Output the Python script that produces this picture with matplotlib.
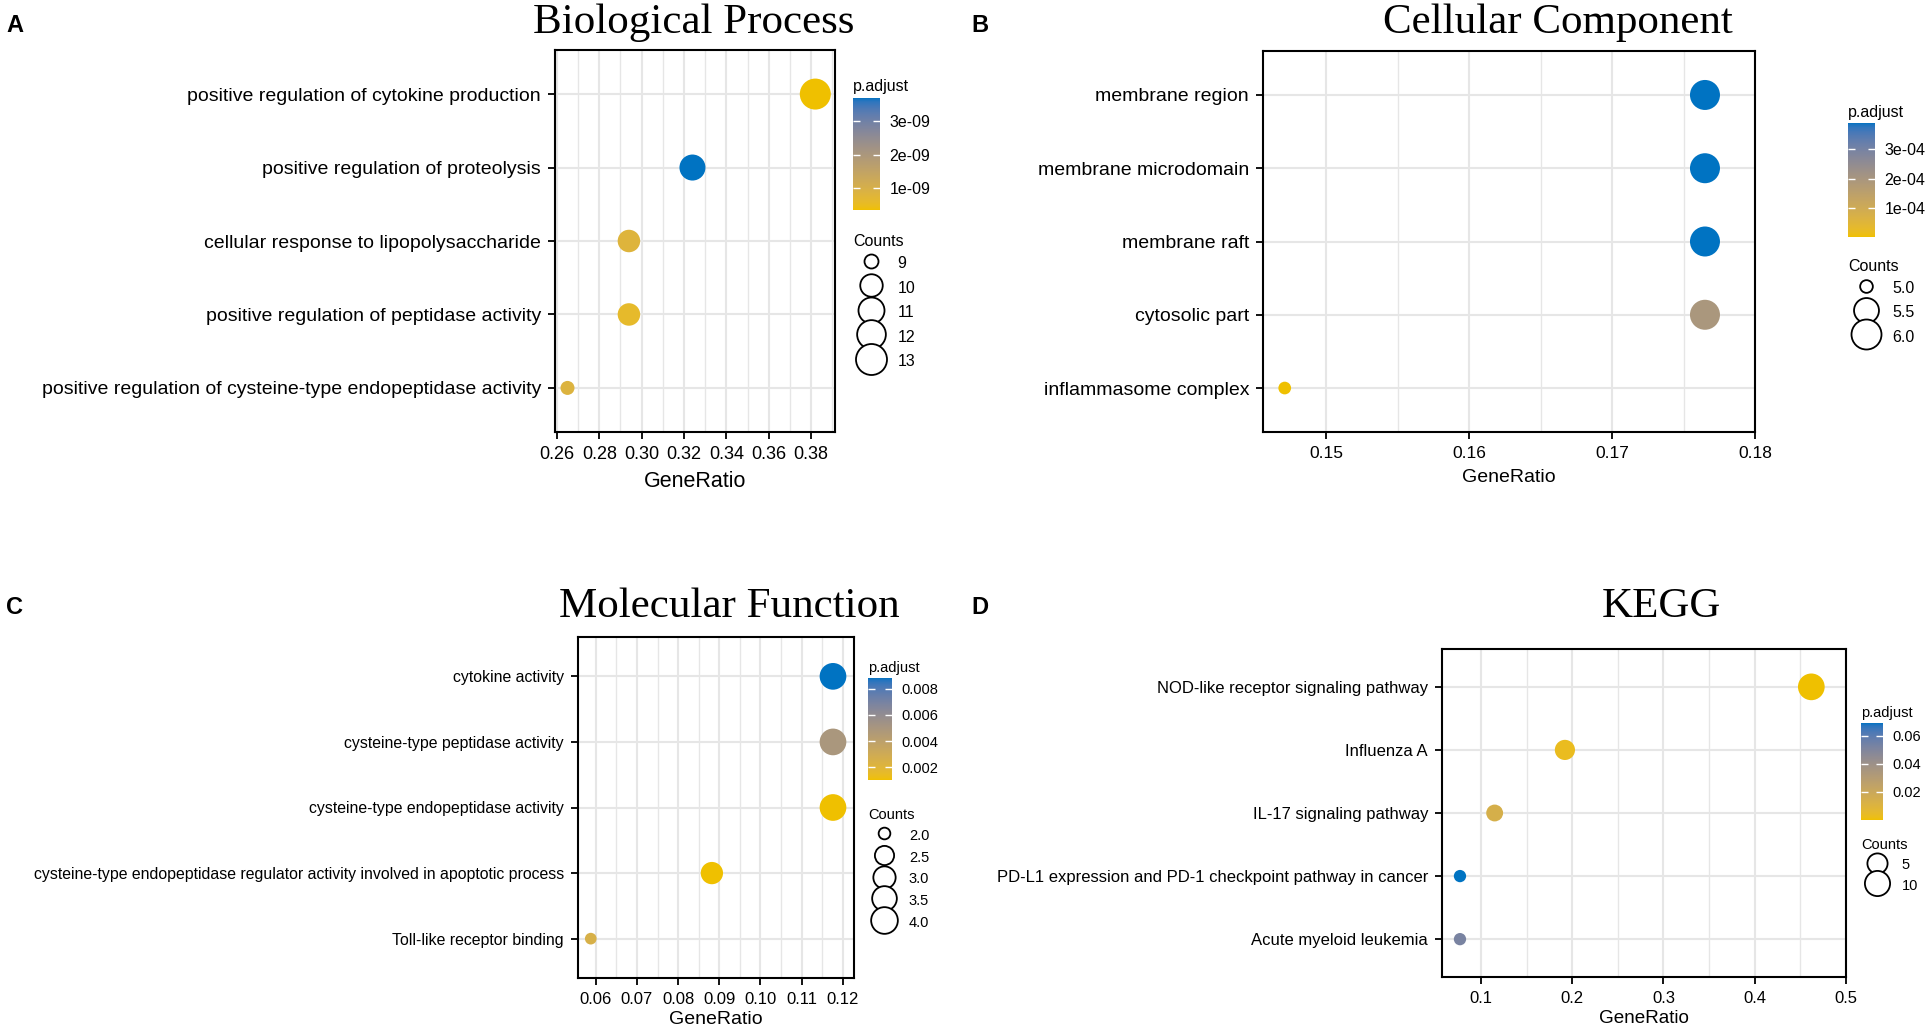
import numpy as np
import matplotlib
matplotlib.use("Agg")
import matplotlib.pyplot as plt
from matplotlib.colors import ListedColormap
from matplotlib.lines import Line2D
from matplotlib.ticker import MultipleLocator, FormatStrFormatter

plt.rcParams['font.family'] = ['Liberation Sans', 'DejaVu Sans']

# ---- data ----

bp_terms = ["positive regulation of cytokine production",
            "positive regulation of proteolysis",
            "cellular response to lipopolysaccharide",
            "positive regulation of peptidase activity",
            "positive regulation of cysteine-type endopeptidase activity"]
bp_ratio = [0.382, 0.324, 0.294, 0.294, 0.265]
bp_counts = [13, 11, 10, 10, 9]
bp_padj = [3.4e-10, 3.69e-9, 8.0e-10, 6.0e-10, 8.5e-10]

cc_terms = ["membrane region", "membrane microdomain", "membrane raft",
            "cytosolic part", "inflammasome complex"]
cc_ratio = [0.1765, 0.1765, 0.1765, 0.1765, 0.1471]
cc_counts = [6, 6, 6, 6, 5]
cc_padj = [3.89e-4, 3.89e-4, 3.89e-4, 1.95e-4, 2e-6]

mf_terms = ["cytokine activity",
            "cysteine-type peptidase activity",
            "cysteine-type endopeptidase activity",
            "cysteine-type endopeptidase regulator activity involved in apoptotic process",
            "Toll-like receptor binding"]
mf_ratio = [0.1176, 0.1176, 0.1176, 0.0882, 0.0588]
mf_counts = [4, 4, 4, 3, 2]
mf_padj = [0.00882, 0.0049, 0.00103, 0.00105, 0.0025]

kegg_terms = ["NOD-like receptor signaling pathway",
              "Influenza A",
              "IL-17 signaling pathway",
              "PD-L1 expression and PD-1 checkpoint pathway in cancer",
              "Acute myeloid leukemia"]
kegg_ratio = [0.462, 0.192, 0.115, 0.077, 0.077]
kegg_counts = [12, 5, 3, 2, 2]
kegg_padj = [2e-5, 0.003, 0.014, 0.0689, 0.052]

bp_xticks = [0.26, 0.28, 0.30, 0.32, 0.34, 0.36, 0.38]
cc_xticks = [0.15, 0.16, 0.17, 0.18]
mf_xticks = [0.06, 0.07, 0.08, 0.09, 0.10, 0.11, 0.12]
kegg_xticks = [0.1, 0.2, 0.3, 0.4, 0.5]

bp_cbar = [1e-9, 2e-9, 3e-9]
bp_cbar_lab = ["1e-09", "2e-09", "3e-09"]
cc_cbar = [1e-4, 2e-4, 3e-4]
cc_cbar_lab = ["1e-04", "2e-04", "3e-04"]
mf_cbar = [0.002, 0.004, 0.006, 0.008]
mf_cbar_lab = ["0.002", "0.004", "0.006", "0.008"]
kegg_cbar = [0.02, 0.04, 0.06]
kegg_cbar_lab = ["0.02", "0.04", "0.06"]

bp_breaks = [9, 10, 11, 12, 13]
cc_breaks = [5.0, 5.5, 6.0]
mf_breaks = [2.0, 2.5, 3.0, 3.5, 4.0]
kegg_breaks = [5, 10]


# ---- colour gradient in Lab space (like ggplot) ----

M = np.array([[0.4124564, 0.3575761, 0.1804375],
              [0.2126729, 0.7151522, 0.0721750],
              [0.0193339, 0.1191920, 0.9503041]])
WHITE = np.array([0.95047, 1.0, 1.08883])


def to_lab(hexcol):
    rgb = np.array([int(hexcol[i:i + 2], 16) for i in (1, 3, 5)]) / 255.0
    lin = np.where(rgb <= 0.04045, rgb / 12.92, ((rgb + 0.055) / 1.055) ** 2.4)
    t = (M @ lin) / WHITE
    f = np.where(t > (6 / 29) ** 3, np.cbrt(t), t / (3 * (6 / 29) ** 2) + 4 / 29)
    return np.array([116 * f[1] - 16, 500 * (f[0] - f[1]), 200 * (f[1] - f[2])])


def from_lab(lab):
    fy = (lab[0] + 16) / 116
    f = np.array([fy + lab[1] / 500, fy, fy - lab[2] / 200])
    t = np.where(f > 6 / 29, f ** 3, 3 * (6 / 29) ** 2 * (f - 4 / 29))
    lin = np.linalg.solve(M, t * WHITE)
    lin = np.clip(lin, 0, None)
    rgb = np.where(lin <= 0.0031308, 12.92 * lin, 1.055 * lin ** (1 / 2.4) - 0.055)
    return np.clip(rgb, 0, 1)


low = to_lab("#EFC000")
high = to_lab("#0073C2")
cmap = ListedColormap([from_lab(low + (high - low) * k) for k in np.linspace(0, 1, 256)])


# ---- figure ----

W, H = 1927, 1031
fig = plt.figure(figsize=(W / 100, H / 100), dpi=100)


def frac(x, y, w, h):
    # pixel box (from top-left) to figure fraction
    return [x / W, 1 - (y + h) / H, w / W, h / H]


def diam(counts, breaks_all, drange):
    c = np.asarray(counts, float)
    cmin, cmax = min(breaks_all), max(breaks_all)
    return drange[0] + (drange[1] - drange[0]) * np.sqrt((c - cmin) / (cmax - cmin))


def dot_panel(box, terms, ratio, counts, padj, xlim, xticks, minor, fmt, drange,
              ylab_size, xtick_size, xlab_size, xlab_pad):
    ax = fig.add_axes(frac(*box))
    y = np.arange(len(terms), 0, -1)
    d = diam(counts, counts, drange)
    sc = ax.scatter(ratio, y, s=(d * 0.72) ** 2, c=padj, cmap=cmap,
                    vmin=min(padj), vmax=max(padj), edgecolors='none', zorder=3)
    ax.set_xlim(xlim)
    ax.set_ylim(0.4, len(terms) + 0.6)
    ax.set_yticks(y)
    ax.set_yticklabels(terms, fontsize=ylab_size)
    ax.set_xticks(xticks)
    ax.xaxis.set_minor_locator(MultipleLocator(minor))
    ax.xaxis.set_major_formatter(FormatStrFormatter(fmt))
    ax.tick_params(axis='x', labelsize=xtick_size, pad=4)
    ax.tick_params(which='major', direction='out', length=5, width=1.3, color='black', pad=5)
    ax.tick_params(which='minor', length=0)
    ax.grid(which='major', color='#E6E6E6', lw=1.5, zorder=0)
    ax.grid(which='minor', axis='x', color='#E6E6E6', lw=1.0, zorder=0)
    ax.set_axisbelow(True)
    for sp in ax.spines.values():
        sp.set_linewidth(1.5)
        sp.set_color('black')
    ax.set_xlabel("GeneRatio", fontsize=xlab_size, labelpad=xlab_pad)
    return ax, sc


def color_legend(sc, box, ticks, labels, title_y, fsize):
    cax = fig.add_axes(frac(*box))
    cb = fig.colorbar(sc, cax=cax)
    cb.outline.set_visible(False)
    cb.set_ticks(ticks)
    cb.set_ticklabels(labels)
    cax.tick_params(direction='in', color='white', length=5, width=1,
                    left=True, right=True, labelsize=fsize, pad=7)
    fig.text(box[0] / W, 1 - title_y / H, "p.adjust", fontsize=fsize, va='center', ha='left')


def size_legend(x0, y0, breaks, labels, counts, drange, pitch, fsize):
    d = diam(breaks, counts, drange)
    handles = [Line2D([], [], ls='none', marker='o', markersize=v * 0.72,
                      markerfacecolor='white', markeredgecolor='black',
                      markeredgewidth=1.3) for v in d]
    fs = fsize * 100 / 72
    fig.legend(handles, labels, title="Counts", loc='upper left',
               bbox_to_anchor=(x0 / W, 1 - y0 / H), frameon=False,
               fontsize=fsize, title_fontsize=fsize, alignment='left',
               handlelength=2.2, handletextpad=0.6, handleheight=(pitch - 4) / fs,
               labelspacing=4 / fs, borderpad=0, borderaxespad=0)


# A: Biological Process
axA, scA = dot_panel((555, 50, 280, 382), bp_terms, bp_ratio, bp_counts, bp_padj,
                     (0.2591, 0.3913), bp_xticks, 0.01, '%.2f', (14, 31),
                     14, 13, 15.5, 6)
color_legend(scA, (853, 98, 27, 112), bp_cbar, bp_cbar_lab, 87, 11.5)
size_legend(853, 234, bp_breaks, ["9", "10", "11", "12", "13"], bp_counts, (14, 31), 29.5, 11.5)

# B: Cellular Component
axB, scB = dot_panel((1263, 51, 492, 381), cc_terms, cc_ratio, cc_counts, cc_padj,
                     (0.14558, 0.18), cc_xticks, 0.005, '%.2f', (12.7, 30),
                     14, 12.5, 14, 6)
color_legend(scB, (1848, 123, 27, 114), cc_cbar, cc_cbar_lab, 113, 11.5)
size_legend(1848, 259, cc_breaks, ["5.0", "5.5", "6.0"], cc_counts, (12.7, 30), 29, 11.5)

# C: Molecular Function
axC, scC = dot_panel((578, 637, 276, 341), mf_terms, mf_ratio, mf_counts, mf_padj,
                     (0.0557, 0.1227), mf_xticks, 0.005, '%.2f', (11.7, 26.7),
                     11.4, 12, 14, 3)
color_legend(scC, (868, 678, 24, 102), mf_cbar, mf_cbar_lab, 668, 10.5)
size_legend(868, 808, mf_breaks, ["2.0", "2.5", "3.0", "3.5", "4.0"], mf_counts, (11.7, 26.7), 26, 10.5)

# D: KEGG
axD, scD = dot_panel((1442, 649, 404, 328), kegg_terms, kegg_ratio, kegg_counts, kegg_padj,
                     (0.0573, 0.5), kegg_xticks, 0.05, '%.1f', (12.3, 26.7),
                     12, 12, 13.6, 3)
color_legend(scD, (1861, 723, 22, 97), kegg_cbar, kegg_cbar_lab, 713, 10.5)
size_legend(1861, 838, kegg_breaks, ["5", "10"], kegg_counts, (12.3, 26.7), 24, 10.5)

# titles and panel letters
titles = [("Biological Process", 694, 33), ("Cellular Component", 1558, 33),
          ("Molecular Function", 729, 617), ("KEGG", 1661, 617)]
for txt, x, y in titles:
    fig.text(x / W, 1 - y / H, txt, fontsize=31, family='Liberation Serif',
             ha='center', va='baseline')

letters = [("A", 6, 32), ("B", 971, 32), ("C", 6, 614), ("D", 971, 614)]
for txt, x, y in letters:
    fig.text(x / W, 1 - y / H, txt, fontsize=17, fontweight='bold',
             ha='left', va='baseline')

fig.savefig("out.png", dpi=100)
